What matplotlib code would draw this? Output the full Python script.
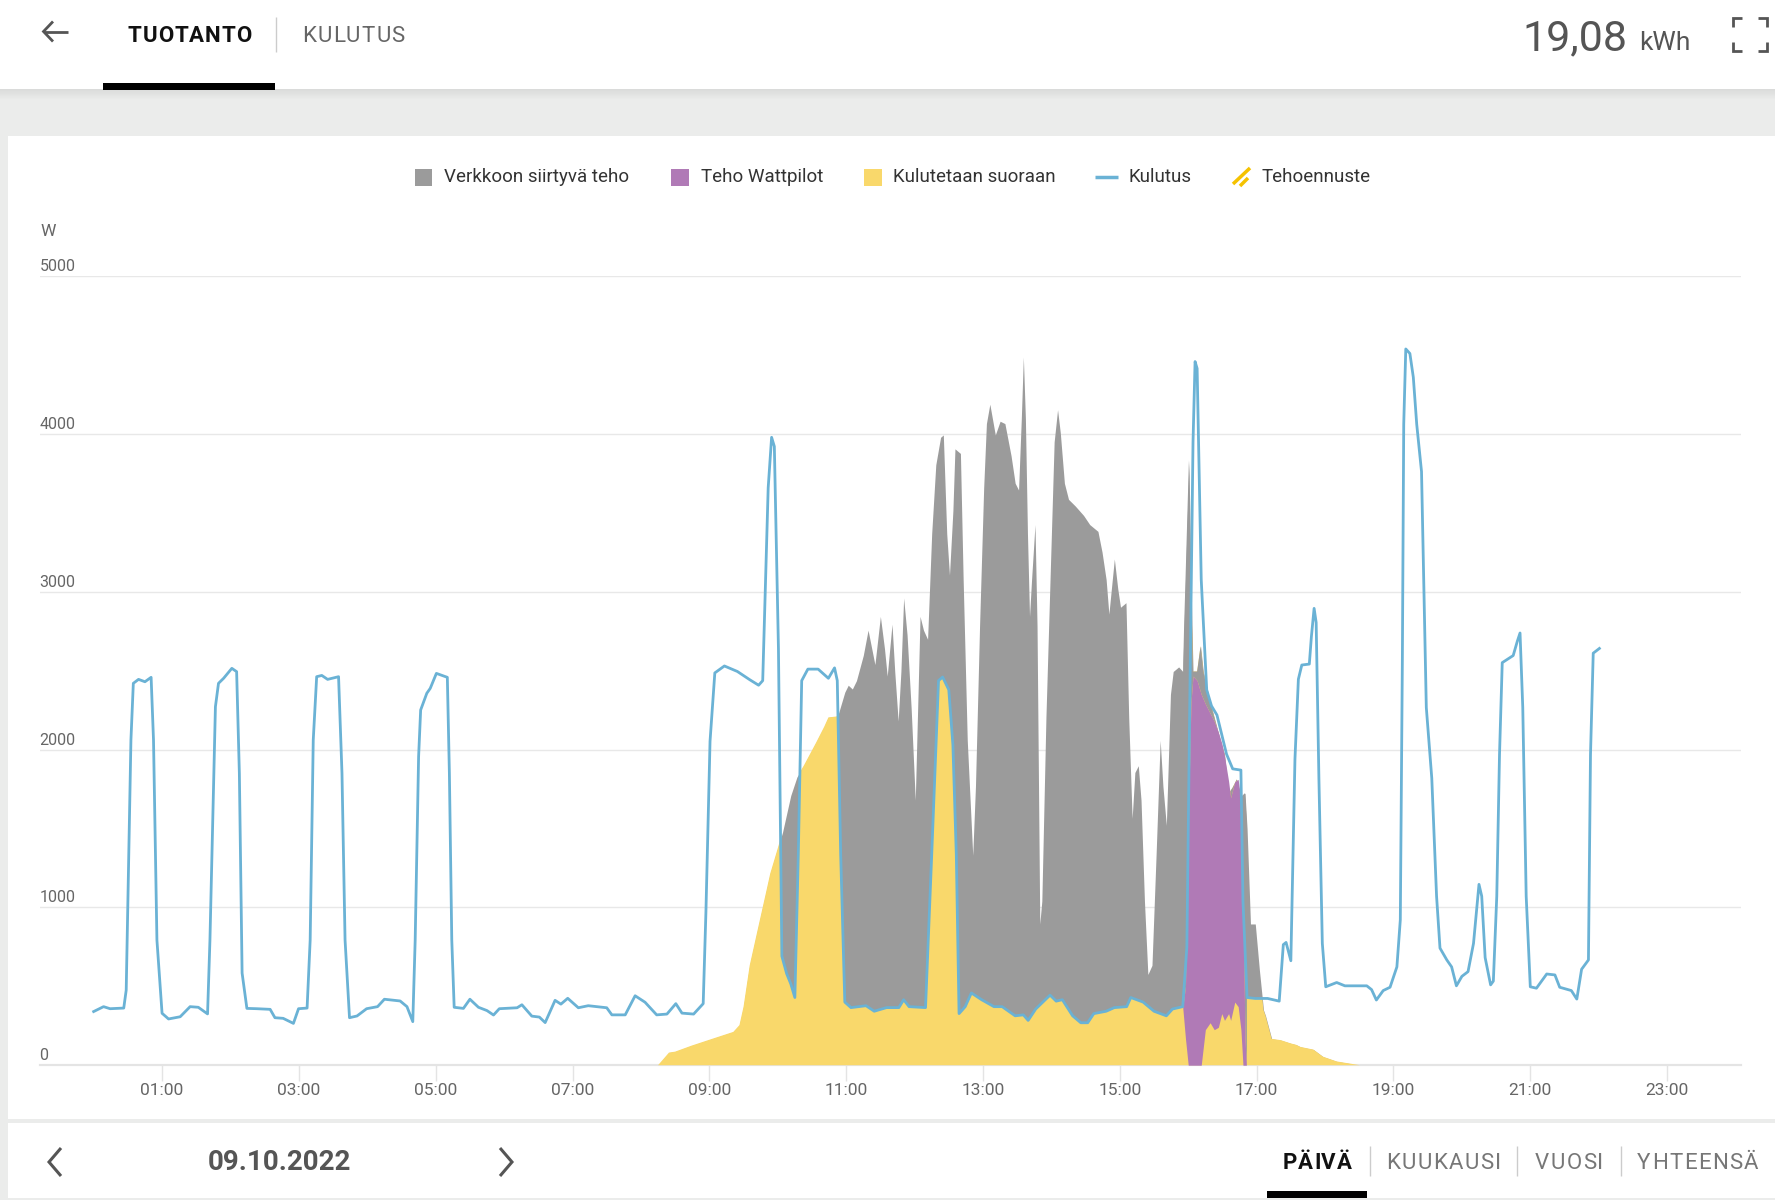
import numpy as np
import matplotlib
matplotlib.use("Agg")
import matplotlib.pyplot as plt
from matplotlib.patches import Rectangle
from matplotlib.lines import Line2D
from matplotlib.font_manager import FontProperties
import matplotlib.transforms as mtransforms

plt.rcParams['font.family'] = ['Roboto', 'DejaVu Sans']

# --- data, hours since midnight / watts ---
kulutus_h = [0.00, 0.145, 0.24, 0.44, 0.476, 0.545, 0.58, 0.656, 0.75, 0.84, 0.875, 0.925,
             1.00, 1.095, 1.265, 1.41, 1.53, 1.665, 1.70, 1.78, 1.825, 1.90, 2.02, 2.09,
             2.13, 2.17, 2.24, 2.385, 2.58, 2.65, 2.77, 2.92, 2.995, 3.12, 3.165, 3.21,
             3.26, 3.335, 3.42, 3.58, 3.63, 3.675, 3.74, 3.85, 3.99, 4.15, 4.25, 4.48,
             4.58, 4.665, 4.70, 4.75, 4.78, 4.87, 4.92, 5.01, 5.17, 5.20, 5.235, 5.27,
             5.405, 5.50, 5.625, 5.75, 5.845, 5.93, 6.19, 6.26, 6.405, 6.515, 6.60, 6.745,
             6.83, 6.93, 7.085, 7.23, 7.50, 7.575, 7.77, 7.915, 8.06, 8.23, 8.38, 8.51,
             8.60, 8.77, 8.91, 8.95, 9.01, 9.08, 9.22, 9.41, 9.59, 9.72, 9.78, 9.86,
             9.91, 9.95, 10.01, 10.06, 10.13, 10.19, 10.25, 10.30, 10.35, 10.44, 10.59, 10.74,
             10.83, 10.87, 10.92, 10.98, 11.07, 11.29, 11.41, 11.59, 11.77, 11.84, 11.92, 12.16,
             12.25, 12.35, 12.41, 12.50, 12.56, 12.61, 12.65, 12.74, 12.83, 12.98, 13.16, 13.28,
             13.47, 13.59, 13.66, 13.77, 13.98, 14.07, 14.16, 14.31, 14.43, 14.53, 14.62, 14.80,
             14.92, 15.10, 15.16, 15.34, 15.50, 15.68, 15.77, 15.92, 15.98, 16.02, 16.07, 16.10,
             16.13, 16.19, 16.27, 16.34, 16.42, 16.56, 16.65, 16.77, 16.80, 16.86, 16.98, 17.16,
             17.33, 17.39, 17.43, 17.50, 17.56, 17.61, 17.66, 17.77, 17.80, 17.84, 17.87, 17.91,
             17.96, 18.01, 18.17, 18.29, 18.46, 18.61, 18.68, 18.75, 18.85, 18.95, 19.05, 19.10,
             19.13, 19.15, 19.18, 19.24, 19.29, 19.34, 19.41, 19.48, 19.56, 19.63, 19.68, 19.78,
             19.85, 19.92, 20.00, 20.09, 20.17, 20.25, 20.29, 20.34, 20.42, 20.46, 20.51, 20.55,
             20.59, 20.75, 20.81, 20.85, 20.89, 20.94, 21.00, 21.09, 21.24, 21.36, 21.43, 21.60,
             21.68, 21.75, 21.85, 21.88, 21.92, 22.01]
kulutus_w = [340, 371, 358, 362, 476, 2061, 2420, 2445, 2430, 2458, 2061, 793,
             329, 293, 307, 371, 367, 325, 793, 2272, 2420, 2452, 2515, 2494,
             1850, 584, 360, 358, 354, 301, 297, 265, 358, 362, 793, 2061,
             2462, 2470, 2445, 2462, 1850, 793, 301, 312, 358, 371, 418, 407,
             371, 276, 793, 1955, 2251, 2357, 2388, 2483, 2458, 1850, 793, 367,
             360, 418, 367, 346, 318, 358, 364, 383, 311, 305, 270, 411,
             387, 424, 364, 377, 364, 319, 319, 440, 399, 319, 324, 390,
             330, 324, 390, 973, 2053, 2486, 2530, 2495, 2443, 2408, 2437, 3659,
             3979, 3921, 2640, 691, 580, 516, 429, 1331, 2437, 2510, 2510, 2452,
             2518, 2437, 1331, 400, 365, 377, 342, 365, 365, 415, 371, 365,
             1331, 2437, 2460, 2379, 2030, 1331, 327, 371, 458, 415, 371, 371,
             313, 319, 284, 356, 444, 406, 415, 313, 269, 269, 327, 342,
             365, 371, 429, 400, 342, 313, 356, 371, 749, 2204, 3950, 4459,
             4415, 3077, 2379, 2277, 2219, 1971, 1878, 1870, 1040, 429, 423, 423,
             406, 764, 778, 662, 1940, 2446, 2536, 2542, 2715, 2895, 2805, 1819,
             772, 497, 524, 503, 503, 503, 479, 413, 473, 494, 623, 921,
             2566, 4061, 4539, 4510, 4360, 4061, 3762, 2267, 1819, 1071, 742, 667,
             623, 503, 563, 593, 772, 1146, 1071, 682, 509, 533, 1071, 1968,
             2551, 2596, 2686, 2739, 2267, 1071, 497, 488, 578, 572, 494, 473,
             419, 608, 667, 1968, 2611, 2641]

# total production = top of the stacked areas
tuotanto_h = [8.25, 8.41, 8.50, 8.74, 9.04, 9.35, 9.44, 9.50, 9.59, 9.71, 9.83, 9.89,
              9.95, 10.07, 10.19, 10.28, 10.38, 10.47, 10.56, 10.68, 10.74, 10.86, 10.89, 10.98,
              11.03, 11.09, 11.15, 11.25, 11.32, 11.36, 11.42, 11.50, 11.56, 11.60, 11.67, 11.71,
              11.76, 11.80, 11.84, 11.89, 11.95, 12.01, 12.08, 12.13, 12.19, 12.25, 12.31, 12.38,
              12.42, 12.47, 12.51, 12.56, 12.59, 12.67, 12.71, 12.77, 12.85, 12.89, 12.95, 13.01,
              13.05, 13.10, 13.18, 13.25, 13.32, 13.41, 13.47, 13.52, 13.56, 13.59, 13.62, 13.65,
              13.68, 13.71, 13.76, 13.79, 13.83, 13.86, 13.92, 13.98, 14.04, 14.09, 14.13, 14.19,
              14.25, 14.35, 14.47, 14.56, 14.68, 14.74, 14.80, 14.84, 14.89, 14.92, 14.97, 15.01,
              15.09, 15.13, 15.18, 15.22, 15.27, 15.31, 15.36, 15.41, 15.47, 15.53, 15.59, 15.63,
              15.68, 15.74, 15.78, 15.86, 15.92, 15.96, 16.01, 16.04, 16.07, 16.13, 16.18, 16.22,
              16.31, 16.38, 16.47, 16.53, 16.59, 16.65, 16.71, 16.77, 16.83, 16.86, 16.91, 16.98,
              17.04, 17.10, 17.13, 17.22, 17.35, 17.50, 17.58, 17.64, 17.83, 17.97, 18.17, 18.51]
tuotanto_w = [0, 80, 86, 124, 167, 211, 254, 371, 633, 866, 1098, 1215,
              1302, 1477, 1709, 1826, 1898, 1971, 2044, 2146, 2204, 2210, 2233, 2364,
              2408, 2384, 2437, 2597, 2757, 2670, 2539, 2844, 2640, 2466, 2795, 2495,
              2181, 2495, 2961, 2728, 2262, 1680, 2844, 2757, 2699, 3368, 3805, 3979,
              3994, 3368, 3106, 3514, 3906, 3877, 3077, 2059, 1331, 1768, 2786, 3659,
              4066, 4189, 3994, 4081, 4066, 3863, 3688, 3645, 4096, 4488, 4096, 3368,
              2844, 3077, 3426, 2786, 895, 1040, 2204, 3077, 3950, 4154, 4008, 3688,
              3586, 3543, 3484, 3426, 3383, 3252, 3077, 2859, 3077, 3208, 3019, 2902,
              2931, 2204, 1564, 1855, 1898, 1680, 1040, 575, 633, 1331, 2059, 1768,
              1520, 2350, 2495, 2524, 2495, 3077, 3834, 3077, 2495, 2495, 2655, 2495,
              2320, 2204, 2059, 1971, 1720, 1760, 1811, 1700, 1724, 1500, 895, 895,
              604, 350, 313, 167, 159, 138, 129, 116, 99, 54, 24, 0]

# Wattpilot band: lower edge = direct use below it, upper edge = top of the purple stack
wattpilot_h = [15.92, 15.96, 16.00, 16.04, 16.07, 16.13, 16.19, 16.25, 16.32, 16.38, 16.44,
               16.49, 16.53, 16.59, 16.62, 16.68, 16.73, 16.77, 16.80, 16.83, 16.85]
wattpilot_ala = [365, 167, 0, 0, 0, 0, 0, 225, 269, 225, 240,
                 327, 284, 327, 284, 400, 371, 225, 0, 0, 0]
wattpilot_yla = [365, 500, 1500, 2300, 2466, 2437, 2350, 2290, 2230, 2180, 2110,
                 2040, 1960, 1800, 1695, 1797, 1811, 1680, 1040, 167, 0]

x_ticks = list(range(1, 24, 2))
x_labels = ["%02d:00" % h for h in x_ticks]
y_ticks = [0, 1000, 2000, 3000, 4000, 5000]

legend_labels = ["Verkkoon siirtyvä teho", "Teho Wattpilot", "Kulutetaan suoraan",
                 "Kulutus", "Tehoennuste"]

GRAY = '#9b9b9b'
PURPLE = '#b07ab6'
YELLOW = '#f9d86b'
BLUE = '#6ab2d5'

W, H = 1775, 1200
fig = plt.figure(figsize=(W / 100, H / 100), dpi=100)
fig.patch.set_facecolor('#ebeceb')
renderer = fig.canvas.get_renderer()


def fx(x):
    return x / W


def fy(y):
    return 1 - y / H


def rect(x0, y0, x1, y1, color, z=-10, alpha=1.0):
    fig.add_artist(Rectangle((fx(x0), fy(y1)), (x1 - x0) / W, (y1 - y0) / H,
                             transform=fig.transFigure, facecolor=color,
                             edgecolor='none', zorder=z, alpha=alpha))


def line(xs, ys, color, lw, z=5):
    fig.add_artist(Line2D([fx(x) for x in xs], [fy(y) for y in ys],
                          transform=fig.transFigure, color=color, lw=lw, zorder=z,
                          solid_capstyle='butt', solid_joinstyle='miter'))


def spaced_text(x, y, s, size, color, weight='normal', spacing=1.2):
    # letter-spaced label, left edge x, baseline y (pixels of the screenshot)
    fp = FontProperties(family=plt.rcParams['font.family'], size=size, weight=weight)
    for i, ch in enumerate(s):
        pre = renderer.get_text_width_height_descent(s[:i], fp, ismath=False)[0] if i else 0
        fig.text(fx(x + pre + i * spacing), fy(y), ch, fontproperties=fp, color=color,
                 ha='left', va='baseline')


# page background blocks
rect(0, 0, W, 89, 'white', z=-9)
for i in range(10):
    rect(0, 89 + i, W, 90 + i, 'black', z=-8, alpha=0.07 * (1 - i / 10))
rect(8, 136, W, 1119, 'white', z=-9)
rect(8, 1123, W, 1198, 'white', z=-9)

# header
line([44, 68], [31.5, 31.5], '#555555', 2.0)
line([53, 43.5, 53], [21.5, 31.5, 41.5], '#555555', 2.0)
spaced_text(128, 42.3, "TUOTANTO", 16, '#111111', weight='bold', spacing=0.8)
line([276, 276], [17, 52], '#cccccc', 1.0)
spaced_text(302, 42.3, "KULUTUS", 16, '#666666', spacing=1.2)
rect(103, 83, 275, 89.5, 'black', z=2)
fig.text(fx(1627), fy(50), "19,08", fontsize=31, color='#555555', ha='right', va='baseline')
fig.text(fx(1639), fy(50), "kWh", fontsize=19, color='#555555', ha='left', va='baseline')
for cx, cy, dx, dy in [(1733, 18, 1, 1), (1767, 18, -1, 1), (1733, 51, 1, -1), (1767, 51, -1, -1)]:
    line([cx + 9 * dx, cx, cx], [cy, cy, cy + 9 * dy], '#555555', 2.0)

# bottom bar
line([61, 49, 61], [1148, 1162, 1176], '#555555', 2.2)
line([500, 512, 500], [1148, 1162, 1176], '#555555', 2.2)
fig.text(fx(279.5), fy(1163), "09.10.2022", fontsize=20, fontweight='bold', color='#555555',
         ha='center', va='center')
spaced_text(1283, 1169.3, "PÄIVÄ", 16, '#111111', weight='bold', spacing=0.8)
for sx in [1370, 1517, 1621]:
    line([sx, sx], [1146, 1176], '#cccccc', 1.0)
spaced_text(1386, 1169.3, "KUUKAUSI", 16, '#777777', spacing=1.4)
spaced_text(1535, 1169.3, "VUOSI", 16, '#777777', spacing=1.4)
spaced_text(1637, 1169.3, "YHTEENSÄ", 16, '#777777', spacing=1.4)
rect(1267, 1191, 1367, 1198, 'black', z=2)

# legend
ly = 177
rect(415, ly - 8.5, 432, ly + 8.5, GRAY, z=3)
fig.text(fx(444), fy(ly), legend_labels[0], fontsize=13.5, color='#333333', ha='left', va='center')
rect(671, ly - 8.5, 689, ly + 8.5, PURPLE, z=3)
fig.text(fx(701), fy(ly), legend_labels[1], fontsize=13.5, color='#333333', ha='left', va='center')
rect(864, ly - 8.5, 882, ly + 8.5, YELLOW, z=3)
fig.text(fx(893), fy(ly), legend_labels[2], fontsize=13.5, color='#333333', ha='left', va='center')
line([1095, 1118], [ly, ly], BLUE, 2.5)
fig.text(fx(1128), fy(ly), legend_labels[3], fontsize=13.5, color='#333333', ha='left', va='center')
line([1233, 1250], [ly + 7, ly - 9], '#f5c200', 2.5)
line([1240, 1248], [ly + 9, ly + 1], '#f5c200', 2.5)
fig.text(fx(1262), fy(ly), legend_labels[4], fontsize=13.5, color='#333333', ha='left', va='center')

# chart
x0, x1 = 39.6, 1741
y_top, y_bot = 276.2, 1065.2
ax = fig.add_axes([fx(x0), fy(y_bot), (x1 - x0) / W, (y_bot - y_top) / H])
ax.set_facecolor('white')
ax.set_xlim(-0.79, 24.08)
ax.set_ylim(0, 5000)

prod_area = ax.fill_between(tuotanto_h, 0, tuotanto_w, color=GRAY, lw=0, zorder=2)
clip = (prod_area.get_paths()[0], ax.transData)

direct = ax.fill_between(kulutus_h, 0, kulutus_w, color=YELLOW, lw=0, zorder=3)
direct.set_clip_path(*clip)

above_wp = ax.fill_between(wattpilot_h, wattpilot_yla, 5000, color=GRAY, lw=0, zorder=4)
above_wp.set_clip_path(*clip)
ax.fill_between(wattpilot_h, wattpilot_ala, wattpilot_yla, color=PURPLE, lw=0, zorder=5)

ax.plot(kulutus_h, kulutus_w, color=BLUE, lw=2.0, zorder=6, solid_joinstyle='round')

ax.set_yticks(y_ticks)
ax.set_yticklabels([])
ax.tick_params(axis='y', length=0)
ax.grid(axis='y', color='#e8e8e8', lw=1.0)
ax.set_axisbelow(True)
ax.set_xticks(x_ticks)
ax.set_xticklabels(x_labels, fontsize=12.5, color='#666666')
ax.tick_params(axis='x', length=11.5, width=1.0, color='#e4e4e4', pad=1)
for s in ['top', 'right', 'left']:
    ax.spines[s].set_visible(False)
ax.spines['bottom'].set_color('#e4e4e4')
ax.spines['bottom'].set_linewidth(1.6)

lab_tr = mtransforms.offset_copy(ax.get_yaxis_transform(), fig=fig, x=0, y=2, units='dots')
for v in y_ticks:
    ax.text(0, v, str(v), transform=lab_tr, fontsize=11.5, color='#666666',
            ha='left', va='bottom')
fig.text(fx(40), fy(232), "W", fontsize=12.5, color='#666666', ha='left', va='center')

fig.savefig("out.png", dpi=100, facecolor=fig.get_facecolor())
